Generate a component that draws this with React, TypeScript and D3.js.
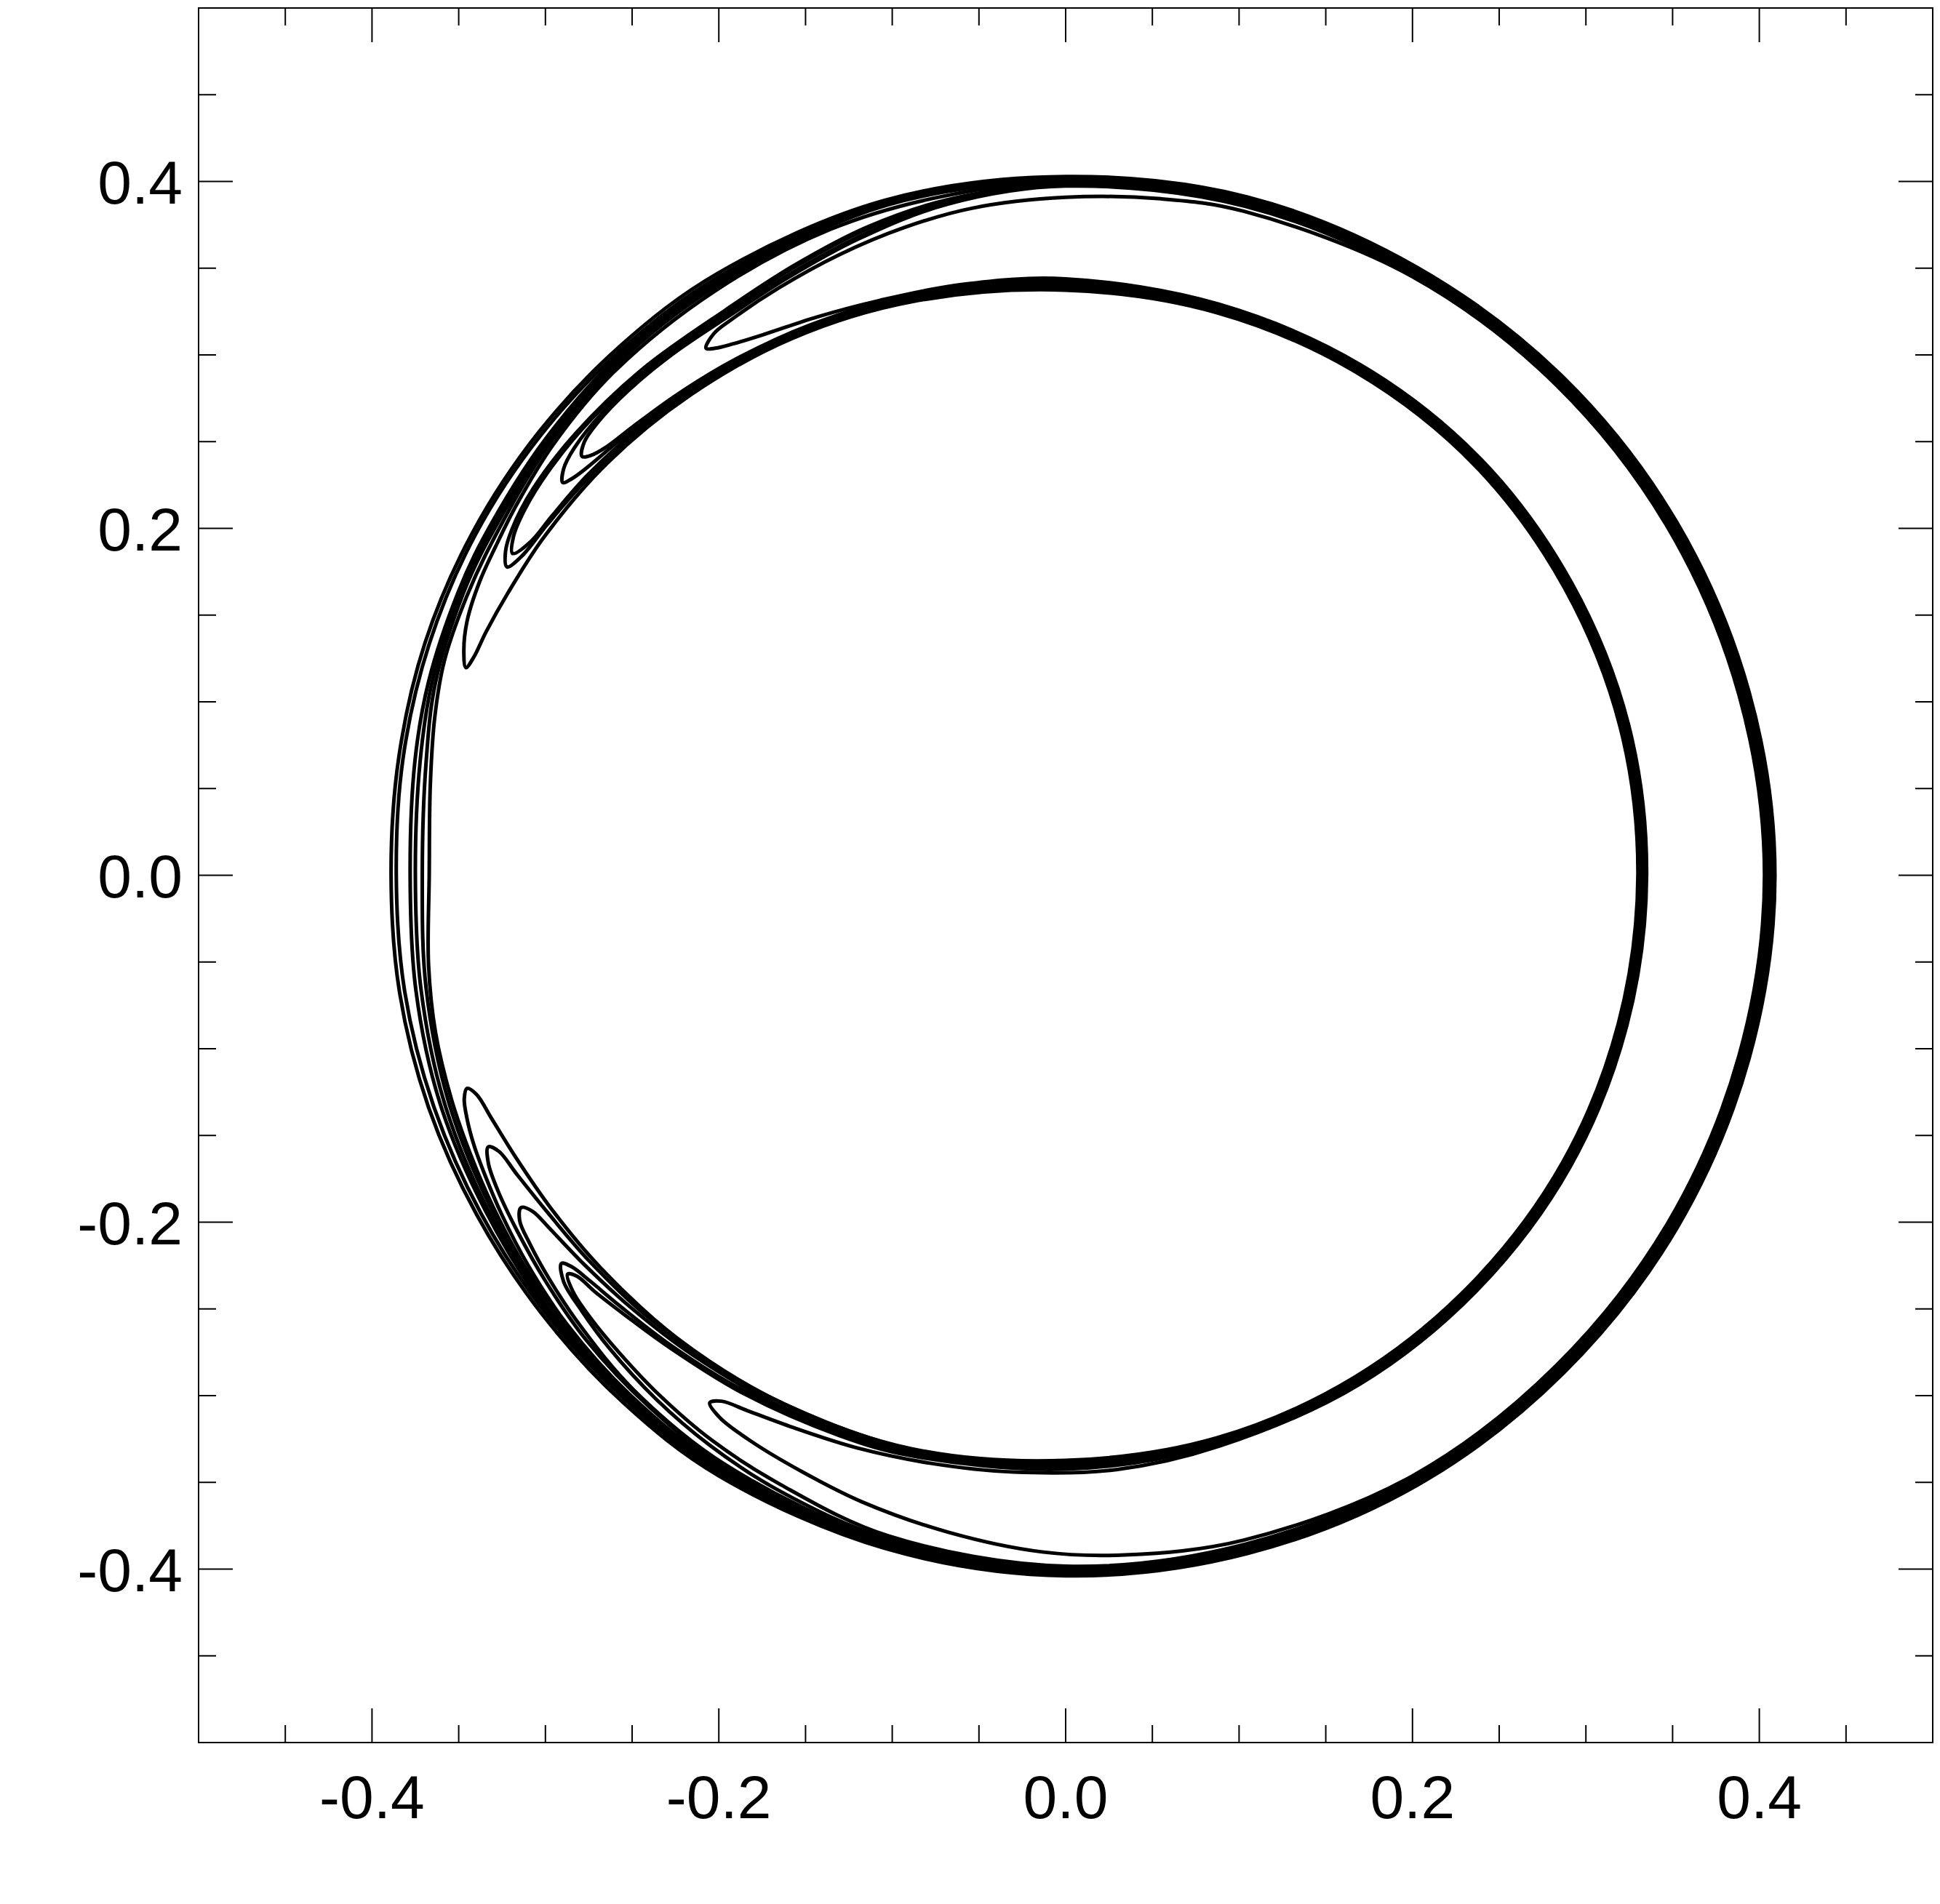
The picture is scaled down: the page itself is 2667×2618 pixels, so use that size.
import React from 'react';
import * as d3 from 'd3';

type P = [number, number]; // [angle in degrees (counter-clockwise from +x), radius in data units]

// Axis setup
const xDomain: [number, number] = [-0.5, 0.5];
const yDomain: [number, number] = [-0.5, 0.5];
const majorTickValues = [-0.4, -0.2, 0, 0.2, 0.4];
const tickLabels = ['-0.4', '-0.2', '0.0', '0.2', '0.4'];
const minorTickValues = [-0.5, -0.45, -0.4, -0.35, -0.3, -0.25, -0.2, -0.15, -0.1, -0.05, 0, 0.05, 0.1, 0.15, 0.2, 0.25, 0.3, 0.35, 0.4, 0.45, 0.5];
const ringCenter: [number, number] = [0, 0];

// Full-ring contours (closed loops around the whole ring)
const loop1: P[] = [[180,0.389],[170,0.3905],[160,0.393],[150,0.395],[140,0.397],[130,0.399],[120,0.401],[105,0.403],[90,0.403],[75,0.405],[60,0.405],[45,0.406],[30,0.407],[15,0.408],[0,0.409],[-15,0.408],[-30,0.407],[-45,0.406],[-60,0.406],[-75,0.405],[-90,0.404],[-105,0.402],[-120,0.400],[-130,0.397],[-140,0.394],[-150,0.392],[-160,0.391],[-170,0.390]];
const loop2: P[] = [[180,0.386],[170,0.388],[160,0.3905],[150,0.393],[140,0.395],[130,0.397],[120,0.399],[105,0.4024],[90,0.4024],[75,0.4044],[60,0.4044],[45,0.4054],[30,0.4064],[15,0.4074],[0,0.4084],[-15,0.4074],[-30,0.4064],[-45,0.4054],[-60,0.4054],[-75,0.4044],[-90,0.4034],[-105,0.4014],[-120,0.3984],[-130,0.395],[-140,0.392],[-150,0.3895],[-160,0.388],[-170,0.387]];
const loop3: P[] = [[180,0.378],[170,0.381],[163,0.384],[155,0.3865],[150,0.388],[140,0.3915],[130,0.3955],[120,0.3975],[105,0.4018],[90,0.4018],[75,0.4038],[60,0.4038],[45,0.4048],[30,0.4058],[15,0.4068],[0,0.4078],[-15,0.4068],[-30,0.4058],[-45,0.4048],[-60,0.4048],[-75,0.4038],[-90,0.4028],[-105,0.4008],[-120,0.3978],[-130,0.3945],[-140,0.3905],[-150,0.3865],[-160,0.384],[-170,0.3805]];
const loop4: P[] = [[180,0.375],[170,0.378],[163,0.382],[155,0.385],[150,0.3865],[140,0.3905],[130,0.3945],[120,0.397],[105,0.4012],[90,0.4012],[75,0.4032],[60,0.4032],[45,0.4042],[30,0.4052],[15,0.4062],[0,0.4072],[-15,0.4062],[-30,0.4052],[-45,0.4042],[-60,0.4042],[-75,0.4032],[-90,0.4022],[-105,0.4002],[-120,0.3972],[-130,0.3935],[-140,0.3898],[-150,0.385],[-160,0.3815],[-170,0.3775]];
const loop5: P[] = [[180,0.371],[170,0.3745],[163,0.380],[155,0.3835],[150,0.385],[140,0.389],[130,0.3935],[120,0.396],[105,0.4006],[90,0.4006],[75,0.4026],[60,0.4026],[45,0.4036],[30,0.4046],[15,0.4056],[0,0.4066],[-15,0.4056],[-30,0.4046],[-45,0.4036],[-60,0.4036],[-75,0.4026],[-90,0.4016],[-105,0.3996],[-120,0.3966],[-130,0.3925],[-140,0.389],[-150,0.383],[-160,0.379],[-170,0.3745]];
const loop6: P[] = [[180,0.367],[172,0.370],[166,0.375],[161,0.379],[155,0.381],[150,0.3825],[140,0.388],[130,0.3925],[120,0.395],[105,0.400],[90,0.400],[75,0.402],[60,0.402],[45,0.403],[30,0.404],[15,0.405],[0,0.406],[-15,0.405],[-30,0.404],[-45,0.403],[-60,0.403],[-75,0.402],[-90,0.401],[-105,0.399],[-120,0.396],[-130,0.3915],[-138,0.388],[-144,0.385],[-150,0.3815],[-155,0.379],[-160,0.377],[-166,0.3745],[-172,0.371]];

// Crescent contours, each ending in a filament tip in the upper left and lower left
const crescent1: P[] = [[124.3,0.368],[123.0,0.3725],[121,0.374],[116,0.377],[110,0.381],[104,0.385],[98,0.3885],[90,0.391],[82,0.394],[75,0.3965],[60,0.399],[45,0.400],[30,0.401],[15,0.402],[0,0.403],[-15,0.402],[-30,0.401],[-45,0.400],[-60,0.400],[-75,0.397],[-85,0.3935],[-92,0.3905],[-100,0.385],[-108,0.380],[-114,0.376],[-119,0.3735],[-122.5,0.371],[-124.0,0.367],[-123.2,0.3625],[-120.5,0.359],[-116,0.355],[-110,0.3515],[-103,0.348],[-95,0.3455],[-85,0.344],[-75,0.341],[-60,0.339],[-45,0.337],[-30,0.336],[-15,0.335],[0,0.335],[15,0.336],[30,0.337],[45,0.339],[60,0.340],[75,0.341],[90,0.344],[100,0.346],[108,0.3485],[114,0.3525],[119,0.357],[122,0.3615],[123.6,0.365]];
const crescent2: P[] = [[139.1,0.369],[138.0,0.3735],[136,0.3755],[132,0.3765],[127,0.3765],[121,0.3765],[115,0.380],[108,0.386],[100,0.393],[90,0.3975],[75,0.3995],[60,0.3995],[45,0.4005],[30,0.4015],[15,0.4025],[0,0.4035],[-15,0.4025],[-30,0.4015],[-45,0.4005],[-60,0.4005],[-75,0.3995],[-90,0.3985],[-105,0.3945],[-115,0.388],[-122,0.3845],[-128,0.3805],[-133,0.377],[-137,0.3745],[-139.8,0.372],[-141.3,0.368],[-140.6,0.3645],[-138.5,0.3625],[-135,0.359],[-130,0.3555],[-122,0.352],[-112,0.3485],[-105,0.3465],[-90,0.3425],[-75,0.340],[-60,0.338],[-45,0.336],[-30,0.335],[-15,0.334],[0,0.334],[15,0.335],[30,0.336],[45,0.338],[60,0.339],[75,0.340],[90,0.343],[105,0.3465],[115,0.350],[123,0.3535],[129,0.3565],[134,0.3595],[137,0.3622],[138.5,0.3655]];
const crescent3: P[] = [[142.0,0.368],[141.0,0.3725],[139,0.3755],[135,0.3775],[128,0.378],[121,0.378],[114,0.382],[107,0.388],[100,0.394],[90,0.398],[75,0.400],[60,0.400],[45,0.401],[30,0.402],[15,0.403],[0,0.404],[-15,0.403],[-30,0.402],[-45,0.401],[-60,0.401],[-75,0.400],[-90,0.399],[-105,0.396],[-115,0.3915],[-122,0.3875],[-128,0.3835],[-134,0.379],[-138,0.3755],[-141,0.3725],[-142.4,0.367],[-141.6,0.3635],[-139.5,0.3605],[-136,0.3575],[-130,0.354],[-122,0.3505],[-112,0.347],[-105,0.3455],[-90,0.3415],[-75,0.339],[-60,0.337],[-45,0.335],[-30,0.334],[-15,0.333],[0,0.333],[15,0.334],[30,0.335],[45,0.337],[60,0.338],[75,0.339],[90,0.342],[105,0.3455],[115,0.349],[124,0.353],[131,0.3565],[136,0.3595],[139.5,0.3625],[141.2,0.3652]];
const crescent4: P[] = [[149.8,0.369],[148.5,0.3735],[146,0.3765],[142,0.3785],[136,0.3795],[128,0.3795],[121,0.3795],[114,0.384],[107,0.390],[100,0.395],[90,0.3985],[75,0.4005],[60,0.4005],[45,0.4015],[30,0.4025],[15,0.4035],[0,0.4045],[-15,0.4035],[-30,0.4025],[-45,0.4015],[-60,0.4015],[-75,0.4005],[-90,0.3995],[-105,0.3975],[-120,0.3925],[-130,0.3875],[-137,0.382],[-142,0.378],[-145.5,0.375],[-147.7,0.3725],[-148.6,0.368],[-147.8,0.3635],[-145.5,0.3605],[-141,0.357],[-135,0.3535],[-128,0.3505],[-118,0.3475],[-105,0.3445],[-90,0.3405],[-75,0.338],[-60,0.336],[-45,0.334],[-30,0.333],[-15,0.332],[0,0.332],[15,0.333],[30,0.334],[45,0.336],[60,0.337],[75,0.338],[90,0.3405],[105,0.3445],[115,0.3485],[125,0.3525],[133,0.356],[140,0.3595],[145,0.3615],[148,0.3635]];
const crescent5: P[] = [[151.1,0.368],[150,0.373],[148,0.3765],[144,0.3795],[138,0.3805],[130,0.3805],[121,0.3805],[114,0.385],[107,0.391],[100,0.3955],[90,0.399],[75,0.401],[60,0.401],[45,0.402],[30,0.403],[15,0.404],[0,0.405],[-15,0.404],[-30,0.403],[-45,0.402],[-60,0.402],[-75,0.401],[-90,0.400],[-105,0.398],[-120,0.3935],[-128,0.3895],[-136,0.385],[-142,0.3805],[-147,0.377],[-151,0.3745],[-153.5,0.372],[-154.8,0.368],[-154,0.3635],[-151.5,0.3605],[-147,0.3565],[-141,0.3535],[-133,0.3505],[-122,0.347],[-105,0.343],[-90,0.339],[-75,0.337],[-60,0.335],[-45,0.333],[-30,0.332],[-15,0.331],[0,0.331],[15,0.332],[30,0.333],[45,0.335],[60,0.336],[75,0.337],[90,0.339],[105,0.3435],[115,0.348],[125,0.352],[134,0.3555],[141,0.3585],[146,0.361],[149.5,0.3635]];
const crescent6: P[] = [[160.9,0.366],[159.5,0.3705],[157,0.375],[153.4,0.378],[150,0.3795],[146,0.382],[140,0.386],[132,0.390],[121,0.393],[110,0.3965],[100,0.398],[90,0.3995],[75,0.4015],[60,0.4015],[45,0.4025],[30,0.4035],[15,0.4045],[0,0.4055],[-15,0.4045],[-30,0.4035],[-45,0.4025],[-60,0.4025],[-75,0.4015],[-90,0.4005],[-105,0.3985],[-120,0.395],[-130,0.391],[-138,0.387],[-144,0.383],[-149,0.3795],[-152.5,0.377],[-155.5,0.375],[-158,0.3725],[-159.6,0.370],[-160.4,0.3665],[-159.6,0.3625],[-157,0.3595],[-153,0.3565],[-147,0.3535],[-140,0.351],[-130,0.3485],[-118,0.3455],[-105,0.3425],[-90,0.3375],[-75,0.336],[-60,0.334],[-45,0.332],[-30,0.331],[-15,0.330],[0,0.330],[15,0.331],[30,0.332],[45,0.334],[60,0.335],[75,0.336],[90,0.3375],[105,0.3425],[117,0.3475],[128,0.3515],[138,0.3555],[147,0.3585],[153.2,0.3605],[157.2,0.3625],[159.8,0.3638]];

const contours: P[][] = [loop1, loop2, loop3, loop4, loop5, loop6, crescent1, crescent2, crescent3, crescent4, crescent5, crescent6];

export default function App() {
  const W = 2667;
  const H = 2618;
  const left = 273, right = 2657, top = 11, bottom = 2396;
  const x = d3.scaleLinear().domain(xDomain).range([left, right]);
  const y = d3.scaleLinear().domain(yDomain).range([bottom, top]);
  const r = d3.scaleLinear().domain([0, 1]).range([0, x(1) - x(0)]);
  const radial = d3
    .lineRadial<P>()
    .angle((d) => ((90 - d[0]) * Math.PI) / 180)
    .radius((d) => r(d[1]))
    .curve(d3.curveCatmullRomClosed.alpha(0.5));

  const majorLen = 47;
  const minorLen = 24;
  const isMajor = (v: number) => majorTickValues.some((m) => Math.abs(m - v) < 1e-9);
  const font = "'Liberation Sans', Arial, Helvetica, sans-serif";
  const sw = 2;

  return (
    <svg
      width={W}
      height={H}
      style={{ position: 'absolute', left: 0, top: 0, background: '#fff' }}
      xmlns="http://www.w3.org/2000/svg"
    >
      <rect x={0} y={0} width={W} height={H} fill="#fff" />
      <g transform={`translate(${x(ringCenter[0])},${y(ringCenter[1])})`}>
        {contours.map((c, i) => (
          <path key={i} d={radial(c) || ''} fill="none" stroke="#000" strokeWidth={5} strokeLinejoin="round" />
        ))}
      </g>
      <rect x={left} y={top} width={right - left} height={bottom - top} fill="none" stroke="#000" strokeWidth={sw} />
      {minorTickValues.map((v, i) => {
        const len = isMajor(v) ? majorLen : minorLen;
        const xv = x(v);
        const yv = y(v);
        return (
          <g key={i} stroke="#000" strokeWidth={sw}>
            <line x1={xv} y1={bottom} x2={xv} y2={bottom - len} />
            <line x1={xv} y1={top} x2={xv} y2={top + len} />
            <line x1={left} y1={yv} x2={left + len} y2={yv} />
            <line x1={right} y1={yv} x2={right - len} y2={yv} />
          </g>
        );
      })}
      {majorTickValues.map((v, i) => (
        <text key={'x' + i} x={x(v)} y={2500} textAnchor="middle" fontFamily={font} fontSize={84} fill="#000">
          {tickLabels[i]}
        </text>
      ))}
      {majorTickValues.map((v, i) => (
        <text key={'y' + i} x={251} y={y(v) + 30} textAnchor="end" fontFamily={font} fontSize={84} fill="#000">
          {tickLabels[i]}
        </text>
      ))}
    </svg>
  );
}
